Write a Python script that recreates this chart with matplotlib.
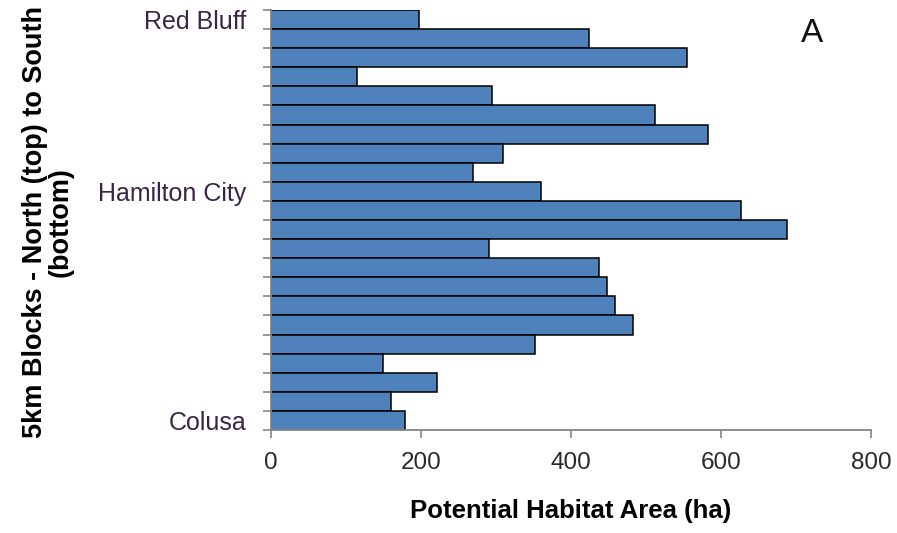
import matplotlib
matplotlib.use("Agg")
import matplotlib.pyplot as plt
import numpy as np

# Potential habitat area per 5 km river block, listed north (top) to south (bottom)
habitat_ha = [197, 424, 555, 114, 294, 512, 583, 309, 269, 360, 627,
              688, 290, 437, 448, 458, 482, 352, 149, 221, 160, 178]
block_labels = ["Red Bluff", "", "", "", "", "", "", "", "", "Hamilton City", "",
                "", "", "", "", "", "", "", "", "", "", "Colusa"]
x_ticks = [0, 200, 400, 600, 800]

plt.rcParams["font.family"] = ["Liberation Sans", "DejaVu Sans"]

fig = plt.figure(figsize=(8.97, 5.33), dpi=100)
ax = fig.add_axes([271 / 897, 1 - 430 / 533, 600 / 897, 420 / 533])

n = len(habitat_ha)
pos = np.arange(n)
ax.barh(pos, habitat_ha, height=1.0, color="#4F81BD", edgecolor="black",
        linewidth=1.1, zorder=2)

ax.set_xlim(0, 800)
ax.set_ylim(n - 0.5, -0.5)

spine_col = "#868686"
for s in ("top", "right"):
    ax.spines[s].set_visible(False)
for s in ("left", "bottom"):
    ax.spines[s].set_color(spine_col)
    ax.spines[s].set_linewidth(1.3)
    ax.spines[s].set_zorder(3)

# block boundaries as unlabeled major ticks
ax.set_yticks(np.arange(n + 1) - 0.5)
ax.set_yticklabels([])
ax.tick_params(axis="y", which="major", length=6, width=1.2, color=spine_col,
               direction="out")
# town names at their block centres
lab_pos = [i for i, t in enumerate(block_labels) if t]
ax.set_yticks(lab_pos, minor=True)
ax.set_yticklabels([block_labels[i] for i in lab_pos], minor=True,
                   fontsize=18, color="#3a2448", va="center_baseline")
ax.tick_params(axis="y", which="minor", length=0, pad=18)

ax.set_xticks(x_ticks)
ax.set_xticklabels([str(v) for v in x_ticks], fontsize=17.5, color="#2a2a2a")
ax.tick_params(axis="x", length=6, width=1.2, color=spine_col, pad=10)

fig.text(571 / 897, 1 - 511 / 533, "Potential Habitat Area (ha)",
         ha="center", va="center", fontsize=18.5, fontweight="bold")
fig.text(48 / 897, 1 - 222 / 533, "5km Blocks - North (top) to South\n(bottom)",
         ha="center", va="center", rotation=90, fontsize=19.5,
         fontweight="bold", multialignment="center", linespacing=0.95)
fig.text(812 / 897, 1 - 33 / 533, "A", ha="center", va="center",
         fontsize=24, color="#111111", fontweight="medium")

fig.savefig("out.png", dpi=100)
